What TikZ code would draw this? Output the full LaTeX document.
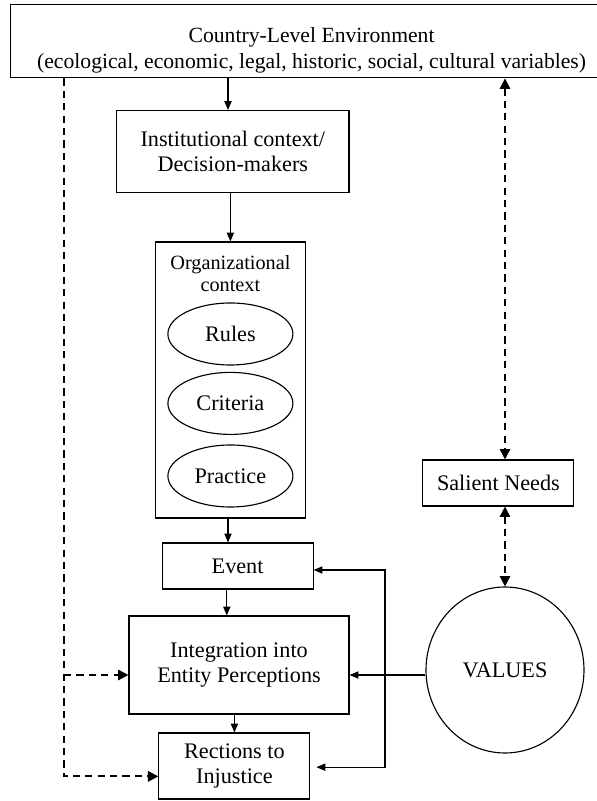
\documentclass[tikz,border=0pt]{standalone}
\usepackage{fontspec}
\setmainfont{Liberation Serif}
\usetikzlibrary{arrows.meta,shapes.geometric}

\begin{document}
\begin{tikzpicture}[x=1cm,y=1cm,
  box/.style={draw,line width=0.8pt,inner sep=0pt,align=center,font=\fontsize{15.8}{18}\selectfont},
  oval/.style={ellipse,draw,line width=0.8pt,inner sep=0pt,minimum width=3.125cm,minimum height=1.55cm,font=\fontsize{15.8}{18}\selectfont},
  stip/.tip={Triangle[length=0.22cm,width=0.18cm]},
  dtip/.tip={Triangle[length=0.26cm,width=0.26cm]},
  arr/.style={line width=0.8pt,-stip},
  dashline/.style={line width=1.3pt,dash pattern=on 0.18cm off 0.13cm},
  darr/.style={dashline,-dtip},
  ddarr/.style={dashline,dtip-dtip}]
\path[use as bounding box] (0,0) rectangle (14.925,20.025);
% boxes
\node[box,minimum width=15.05cm,minimum height=1.825cm] (env) at (7.79,18.99) {};
\node[align=center,inner sep=0pt,font=\fontsize{15.4}{18.5}\selectfont] (envtxt) at (7.79,18.76) {Country-Level Environment\\(ecological, economic, legal, historic, social, cultural variables)};
\node[box,minimum width=5.81cm,minimum height=2.04cm] (inst) at (5.82,16.24) {Institutional context/\\Decision-makers};
\node[box,minimum width=3.75cm,minimum height=6.9cm] (org) at (5.76,10.525) {};
\node[align=center,inner sep=0pt,font=\fontsize{14.4}{15.4}\selectfont] (orglbl) at (5.76,13.19) {Organizational\\context};
\node[oval] (rules) at (5.76,11.675) {Rules};
\node[oval] (crit) at (5.76,9.94) {Criteria};
\node[oval] (prac) at (5.76,8.125) {Practice};
\node[box,minimum width=3.775cm,minimum height=1.15cm] (event) at (5.94,5.875) {Event};
\node[box,minimum width=5.5cm,minimum height=2.45cm] (integ) at (5.975,3.40) {Integration into\\Entity Perceptions};
\node[box,minimum width=3.775cm,minimum height=1.65cm] (react) at (5.86,0.875) {Rections to\\Injustice};
\node[box,minimum width=3.775cm,minimum height=1.15cm] (needs) at (12.46,7.95) {Salient Needs};
\node[oval,minimum width=3.95cm,minimum height=4.15cm] (values) at (12.625,3.275) {VALUES};
\coordinate (jn) at (9.625,3.15);
\coordinate (lt) at (1.60,0);
% main chain
\draw[arr] ([xshift=-0.12cm]inst.north |- env.south) -- ([xshift=-0.12cm]inst.north);
\draw[arr] (inst.south -| org.north) -- (org.north);
\draw[arr] ([xshift=-0.06cm]org.south) -- ([xshift=-0.06cm]org.south |- event.north);
\draw[arr] ([xshift=-0.27cm]event.south) -- ([xshift=-0.27cm]event.south |- integ.north);
\draw[arr] (integ.south -| react.north) -- (react.north);
% values feedback
\draw[arr] (values.west |- jn) -- (integ.east |- jn);
\draw[arr] (jn) |- ([yshift=-0.1cm]event.east);
\draw[arr] (jn) |- ([xshift=0.15cm,yshift=-0.03cm]react.east);
% dashed links
\draw[darr] (env.south -| lt) |- ([yshift=-0.26cm]react.west);
\draw[darr] (lt |- jn) -- (integ.west |- jn);
\draw[ddarr] (env.south -| values.north) -- (needs.north -| values.north);
\draw[ddarr] (needs.south -| values.north) -- (values.north);
\end{tikzpicture}
\end{document}
